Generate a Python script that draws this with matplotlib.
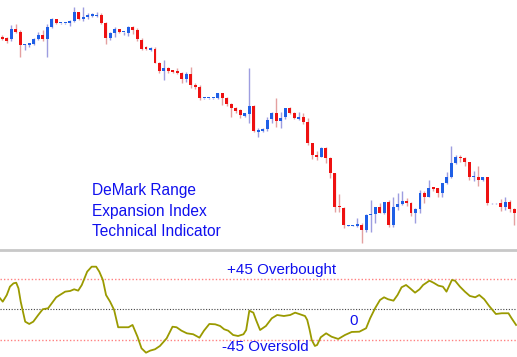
import matplotlib
matplotlib.use("Agg")
import matplotlib.pyplot as plt
import numpy as np

# candle OHLC (price units)
opens = [213.3, 212, 211, 221, 218, 205, 205, 206, 211, 215, 211, 223, 231, 227, 227, 227, 229, 238, 231, 233,
         234, 234, 235, 227, 212, 217, 221, 218, 217, 223, 220, 210, 203, 200, 201, 187, 179, 182, 180, 179.3,
         177.3, 171, 176, 165, 163, 152, 152, 152, 152, 157, 152, 146, 142, 140, 134, 136, 144, 118.3, 119.3, 121,
         130.7, 137.3, 129, 133, 142, 137, 131.3, 133, 128, 107, 95, 93, 102, 92, 77, 44, 42.3, 24.3, 24.3, 24,
         25, 20, 35, 36, 43, 37.3, 47.7, 25, 42.7, 46, 49.3, 46.7, 36.7, 41, 57.3, 53.3, 62.7, 61.7, 56.7, 66.7,
         72.7, 86.7, 93.3, 91.7, 87.7, 72.7, 72.7, 70, 72.7, 46.7, 46.7, 46.7, 43.3, 47.7, 40.7]
highs = [215, 213, 225, 226, 220, 206, 207, 212, 218, 220, 226, 232, 231.5, 227.5, 227.5, 230, 243, 238.5, 243, 237,
         237, 238, 237, 228, 218, 223, 221.3, 218.5, 224, 224, 222, 212, 204, 203.3, 203, 188, 190, 183.3, 180, 181.7,
         178.3, 178, 183, 167, 165, 152.5, 152.5, 152.5, 157.3, 157.3, 153.3, 147, 143.3, 141, 137.3, 182, 145, 122, 121.7, 133.3,
         138.3, 152, 138.3, 142.3, 142.7, 137.7, 138.3, 137, 132, 107.3, 99.3, 102.7, 102.7, 92.7, 77.3, 56, 43.3, 24.8, 24.8, 32.3,
         27, 36, 50, 43.3, 47.3, 48.3, 50, 52.7, 57.3, 59.3, 51.7, 48.3, 41.7, 60, 59.3, 70, 63.3, 62.3, 67.3, 78.3,
         104, 95, 95, 92.7, 88.3, 79.3, 84, 73.3, 73.3, 47.2, 47.2, 50.7, 52.7, 50, 41.7]
lows = [210, 207, 209, 217, 193, 200, 203, 205.5, 210, 209, 193, 222, 226.5, 226.5, 226.5, 224, 228, 230, 229, 231,
        233, 233, 226, 206, 210, 213, 217, 215, 214, 216, 209, 200, 200, 199.3, 186.7, 177.3, 170, 177.3, 177, 176,
        166.7, 168, 162, 161, 150, 151.5, 151.5, 151.5, 150.7, 145, 144, 133, 136.7, 132.3, 133, 127, 118.3, 113, 118.3, 119.3,
        127.3, 123.3, 122, 130.7, 136, 130.7, 130, 126, 105, 91, 90, 92.7, 87.3, 71.7, 38.3, 38.3, 21.7, 23.8, 23.8, 23.3,
        7, 18.3, 18.3, 27.3, 36.7, 36, 22.7, 23.3, 40, 45, 44, 34, 27.3, 36.7, 46.7, 52.7, 59.3, 52.7, 52.7, 65.7,
        71.7, 86, 88.3, 84, 70, 69.3, 64, 69.3, 45, 46.2, 46.2, 39.3, 40, 38.3, 25]
closes = [210.7, 209, 221, 218, 205, 206, 207, 211, 215, 211, 223, 231, 227, 227, 227, 229, 238, 231, 233, 235,
          236, 235, 227, 212, 217, 221, 218, 218.5, 223, 220, 211, 201, 201, 202, 187, 179, 182, 179, 178, 177.3,
          170.7, 176, 165, 163, 152, 152, 152, 152, 157, 152, 146, 142, 139, 135, 137, 144, 119, 120, 120.7, 130,
          137.3, 129, 132, 142, 137.3, 132, 133.3, 128, 107, 95, 93.3, 102, 92, 77, 43.3, 42.7, 25, 24.3, 24.3, 26,
          20, 35, 36, 43, 37.3, 47.7, 25, 42.7, 46, 49.3, 46.7, 36.7, 41, 57.3, 53.3, 61.7, 60.7, 56.7, 66.7, 72.7,
          86.7, 92.7, 91.7, 87.7, 72.7, 74, 70, 72.7, 46.7, 46.7, 46.7, 43.3, 48.3, 40.7, 36.7]

# DeMark Range Expansion Index readings (bar position, value)
osc_x = [-0.5, 0.1, 1.0, 1.7, 2.5, 3.1, 3.6, 4.1, 5.1, 6.0, 6.9, 8.0, 9.0, 10.2, 12.0, 14.0, 15.1, 16.0, 16.9,
         17.7, 18.9, 19.9, 20.9, 21.6, 22.4, 23.1, 24.0, 24.9, 25.8, 26.8, 28.1, 29.0, 30.1, 31.0, 32.0, 32.9,
         34.0, 35.1, 36.6, 37.9, 38.8, 39.9, 41.1, 42.5, 43.9, 44.9, 46.1, 47.4, 48.5, 49.4, 50.3, 51.4, 52.5,
         53.7, 54.3, 55.0, 55.9, 56.5, 57.4, 58.7, 60.0, 61.2, 62.7, 64.1, 65.2, 66.1, 67.4, 67.9, 68.4, 68.9,
         69.6, 70.1, 70.9, 72.1, 73.3, 74.8, 76.3, 77.8, 79.5, 81.0, 81.9, 83.0, 84.1, 85.0, 85.9, 87.1, 88.0,
         88.9, 89.9, 90.8, 91.9, 92.9, 93.7, 95.1, 96.0, 97.1, 98.1, 98.9, 100.1, 100.8, 101.9, 103.0, 104.1,
         105.3, 106.2, 107.3, 108.4, 109.9, 111.2, 112.7, 113.4, 114.4]
osc_val = [16.3, 11.3, 21.2, 33.6, 38.6, 39.5, 31.2, 11.3, -18.4, -21.8, -18.4, -8.5, 0, 1.5, 17.8, 26.2, 27.2,
           29.7, 27.7, 36.1, 55.9, 63.3, 63.3, 55.9, 43.5, 21.2, 11.3, -1, -26.7, -26.7, -26.7, -23.3, -40.7,
           -58, -64.5, -61.5, -59.4, -54.5, -43.1, -25.9, -26.7, -31.8, -35.7, -37.1, -42.2, -31.8, -21.8, -22.3,
           -24.8, -29.7, -31.8, -38.2, -39.7, -37.1, -30.8, -2.1, -5, -15.9, -30.8, -24.8, -13.4, -8.5, -10, -8.5,
           -5, -7, -10, -15.9, -29.7, -45.6, -54.5, -53, -41.6, -35.7, -40.7, -44.1, -38.2, -33.7, -33.3, -28.2,
           -13.4, 1.5, 13.8, 17.8, 14.9, 12.8, 21.2, 32.7, 36.1, 31.2, 24.7, 29.7, 36.1, 42.5, 39.5, 35.1, 33.6,
           26.2, 43.5, 42.5, 33.6, 26.2, 19.8, 17.8, 21.2, 14.9, 4.9, -7, -5.9, -5.9, -13.4, -23.3]

W, H = 517, 357
fig = plt.figure(figsize=(W / 100, H / 100), dpi=100)
fig.patch.set_facecolor("white")

# price panel
ax1 = fig.add_axes([0, (H - 249) / H, 1, 249 / H])
ax1.axis("off")
n = len(opens)
x = np.arange(n)
o = np.array(opens); c = np.array(closes); hi = np.array(highs); lo = np.array(lows)
up = c >= o
body_col = np.where(up, "#1f5fe6", "#ee1111")
wick_col = np.where(up, "#9d9de0", "#e4a0a0")
ax1.vlines(x, lo, hi, colors=wick_col, lw=1.0, zorder=1)
bottom = np.minimum(o, c)
height = np.maximum(np.abs(c - o), 0.8)
ax1.bar(x, height, bottom=bottom, width=0.66, color=body_col, edgecolor="none", zorder=2)
ax1.set_xlim(-0.51, 114.6)
ax1.set_ylim(1, 250)

lbl = dict(color="#1010ee", fontsize=11.2, family="Liberation Sans", va="center")
ax1.text(20, 60, "DeMark Range", **lbl)
ax1.text(20, 39, "Expansion Index", **lbl)
ax1.text(20, 18, "Technical Indicator", **lbl)

# separator
fig.add_artist(plt.Line2D([0, 1], [(H - 249.5) / H] * 2, transform=fig.transFigure,
                          color="#c8c8c8", lw=2))

# indicator panel
ax2 = fig.add_axes([0, 0, 1, 106 / H])
ax2.axis("off")
ax2.set_xlim(-0.51, 114.6)
ax2.set_ylim(-70.9, 86.6)
ax2.axhline(45, color="#ff8080", lw=1, ls=(0, (1, 1.5)))
ax2.axhline(-45, color="#ff8080", lw=1, ls=(0, (1, 1.5)))
ax2.axhline(0, color="#444444", lw=0.8, ls=(0, (1, 1.5)))
ax2.plot(osc_x, osc_val, color="#9a9a00", lw=1.3)

lbl2 = dict(lbl, fontsize=10.9)
ax2.text(50, 58, "+45 Overbought", **lbl2)
ax2.text(49, -56, "-45 Oversold", **lbl2)
ax2.text(77.3, -18, "0", **lbl2)

fig.savefig("out.png", dpi=100)
